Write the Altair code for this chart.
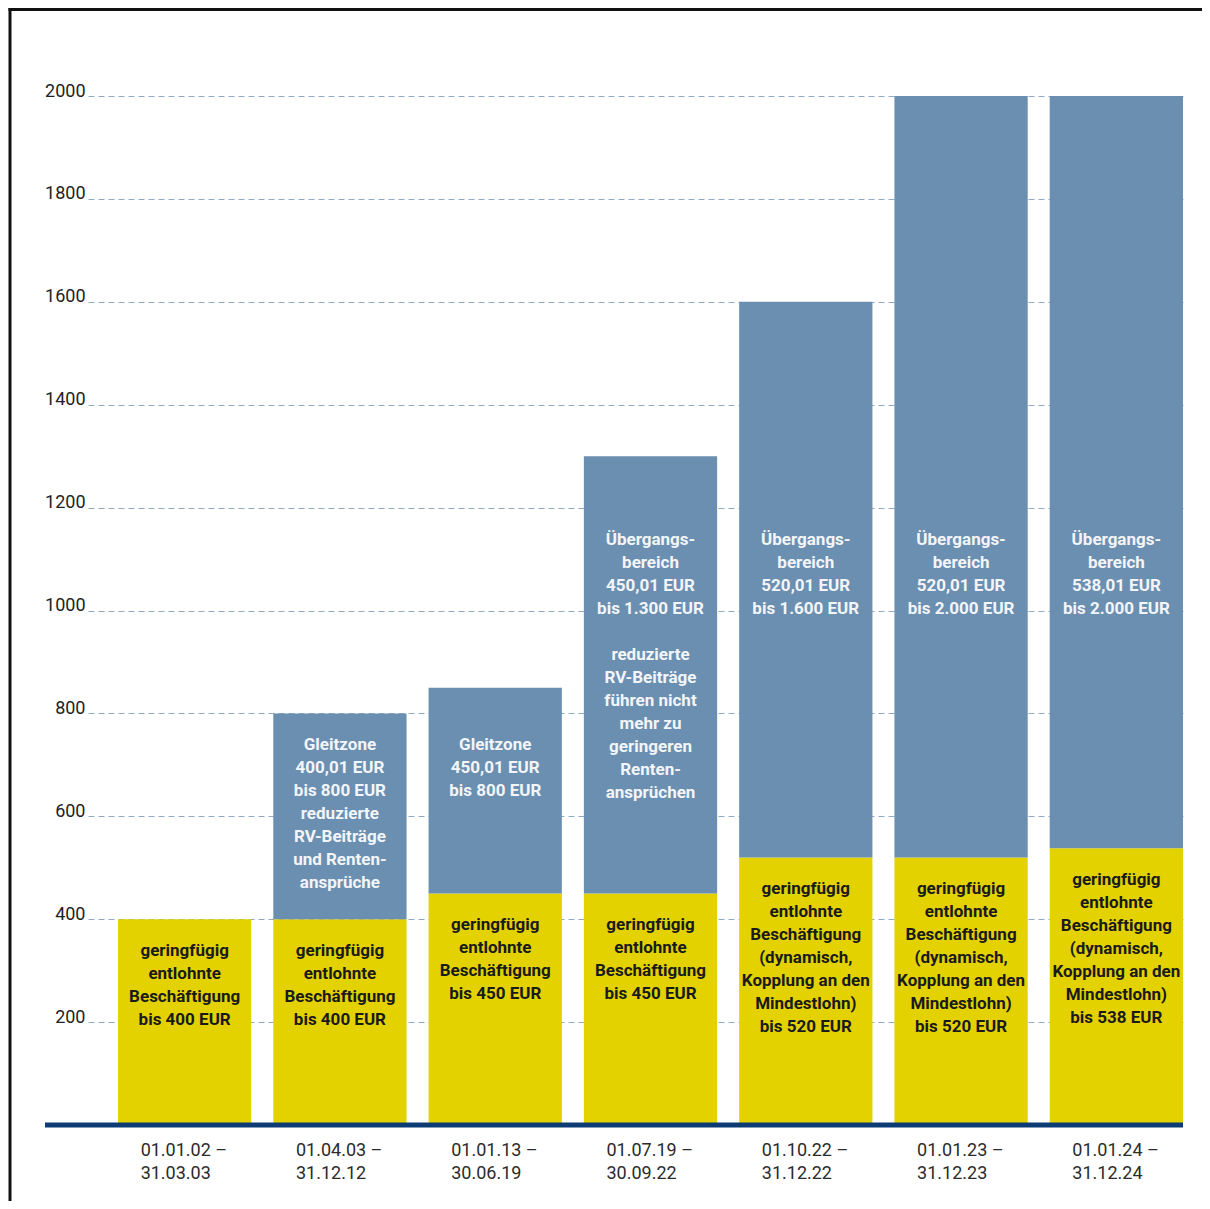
import altair as alt
import pandas as pd

# ---- data ----
periods = [
    "01.01.02 –\n31.03.03",
    "01.04.03 –\n31.12.12",
    "01.01.13 –\n30.06.19",
    "01.07.19 –\n30.09.22",
    "01.10.22 –\n31.12.22",
    "01.01.23 –\n31.12.23",
    "01.01.24 –\n31.12.24",
]
minijob_limit = [400, 400, 450, 450, 520, 520, 538]
upper_limit = [400, 800, 850, 1300, 1600, 2000, 2000]

mini_labels = [
    "geringfügig\nentlohnte\nBeschäftigung\nbis 400 EUR",
    "geringfügig\nentlohnte\nBeschäftigung\nbis 400 EUR",
    "geringfügig\nentlohnte\nBeschäftigung\nbis 450 EUR",
    "geringfügig\nentlohnte\nBeschäftigung\nbis 450 EUR",
    "geringfügig\nentlohnte\nBeschäftigung\n(dynamisch,\nKopplung an den\nMindestlohn)\nbis 520 EUR",
    "geringfügig\nentlohnte\nBeschäftigung\n(dynamisch,\nKopplung an den\nMindestlohn)\nbis 520 EUR",
    "geringfügig\nentlohnte\nBeschäftigung\n(dynamisch,\nKopplung an den\nMindestlohn)\nbis 538 EUR",
]
zone_labels = [
    "",
    "Gleitzone\n400,01 EUR\nbis 800 EUR\nreduzierte\nRV-Beiträge\nund Renten-\nansprüche",
    "Gleitzone\n450,01 EUR\nbis 800 EUR",
    "Übergangs-\nbereich\n450,01 EUR\nbis 1.300 EUR\n\nreduzierte\nRV-Beiträge\nführen nicht\nmehr zu\ngeringeren\nRenten-\nansprüchen",
    "Übergangs-\nbereich\n520,01 EUR\nbis 1.600 EUR",
    "Übergangs-\nbereich\n520,01 EUR\nbis 2.000 EUR",
    "Übergangs-\nbereich\n538,01 EUR\nbis 2.000 EUR",
]
y_ticks = [200, 400, 600, 800, 1000, 1200, 1400, 1600, 1800, 2000]

rows = []
for p, lo, hi, ml, zl in zip(periods, minijob_limit, upper_limit, mini_labels, zone_labels):
    rows.append({"period": p, "seg": "mini", "y0": 0, "y1": lo, "label": ml, "label2": ""})
    if hi > lo:
        parts = zl.split("\n\n")
        rows.append({"period": p, "seg": "zone", "y0": lo, "y1": hi,
                     "label": parts[0], "label2": parts[1] if len(parts) > 1 else ""})
df = pd.DataFrame(rows)

W, H = 1095, 1029
PAD_L, PAD_T = 80, 88
TOTAL_W, TOTAL_H = 1194, 1193
LINE_H = 23
TEXT_DY = 24

x_scale = alt.Scale(paddingInner=0.1417, paddingOuter=0.0966, align=1)
x_axis = alt.Axis(
    title=None, domain=False, ticks=False, tickSize=0, grid=False,
    labelExpr="split(datum.label, '\\n')", labelAlign="left", labelOffset=-44,
    labelPadding=16, labelFont="Roboto", labelFontSize=18, labelColor="#2b2b2b",
    labelLineHeight=23, labelAngle=0,
)
y_scale = alt.Scale(domain=[0, 2000], nice=False, zero=True)
y_axis = alt.Axis(
    title=None, values=y_ticks, format="d", domain=False, ticks=False, grid=True,
    gridDash=[6, 4], gridColor="#8fabc9", gridWidth=1,
    labelFont="Roboto", labelFontSize=18, labelColor="#222222",
    labelPadding=3, labelBaseline="alphabetic", labelOffset=0,
)

x_enc = alt.X("period:N", sort=periods, scale=x_scale, axis=x_axis)

base = alt.Chart(df)

bars = base.mark_bar().encode(
    x=x_enc,
    y=alt.Y("y0:Q", scale=y_scale, axis=y_axis),
    y2="y1:Q",
    color=alt.Color("seg:N", scale=alt.Scale(domain=["mini", "zone"], range=["#e3d200", "#6a8fb1"]), legend=None),
)

text_style = dict(baseline="top", align="center", font="Roboto", fontWeight="bold",
                  fontSize=17, lineHeight=LINE_H, lineBreak="\n")

text_mini = base.transform_filter("datum.seg == 'mini'").transform_calculate(
    anchor="datum.y1"
).mark_text(dy=TEXT_DY, color="#1a1a1a", **text_style).encode(
    x=x_enc, y=alt.Y("anchor:Q", scale=y_scale, axis=y_axis), text="label:N")

zone_base = base.transform_filter("datum.seg == 'zone'").transform_calculate(
    anchor="min(floor(datum.y1 / 200) * 200, 1200)"
)
text_zone = zone_base.mark_text(dy=TEXT_DY, color="#f3f5f8", **text_style).encode(
    x=x_enc, y=alt.Y("anchor:Q", scale=y_scale, axis=y_axis), text="label:N")

# second paragraph (after a blank line) under the first four lines
text_zone2 = zone_base.transform_filter("datum.label2 != ''").mark_text(
    dy=TEXT_DY + 5 * LINE_H, color="#f3f5f8", **text_style).encode(
    x=x_enc, y=alt.Y("anchor:Q", scale=y_scale, axis=y_axis), text="label2:N")

baseline = alt.Chart(pd.DataFrame({"v": [0]})).mark_rule(color="#0d3c74", strokeWidth=5).encode(
    y=alt.Y("v:Q", scale=y_scale, axis=y_axis),
    x=alt.value(-43), x2=alt.value(W),
)

dummy = pd.DataFrame({"d": [0]})
frame_top = alt.Chart(dummy).mark_rule(color="#111111", strokeWidth=3).encode(
    x=alt.value(-79.5), x2=alt.value(TOTAL_W - PAD_L), y=alt.value(-86.5)
)
frame_left = alt.Chart(dummy).mark_rule(color="#111111", strokeWidth=3).encode(
    x=alt.value(-78), y=alt.value(-88), y2=alt.value(TOTAL_H - PAD_T)
)

chart = alt.layer(frame_top, frame_left, bars, text_mini, text_zone, text_zone2, baseline).properties(
    width=W, height=H,
    autosize=alt.AutoSizeParams(type="none"),
    padding={"left": PAD_L, "top": PAD_T, "right": TOTAL_W - PAD_L - W, "bottom": TOTAL_H - PAD_T - H},
    background="white",
).configure_view(stroke=None)

chart.save("out.html", embed_options={"renderer": "svg", "actions": False})
